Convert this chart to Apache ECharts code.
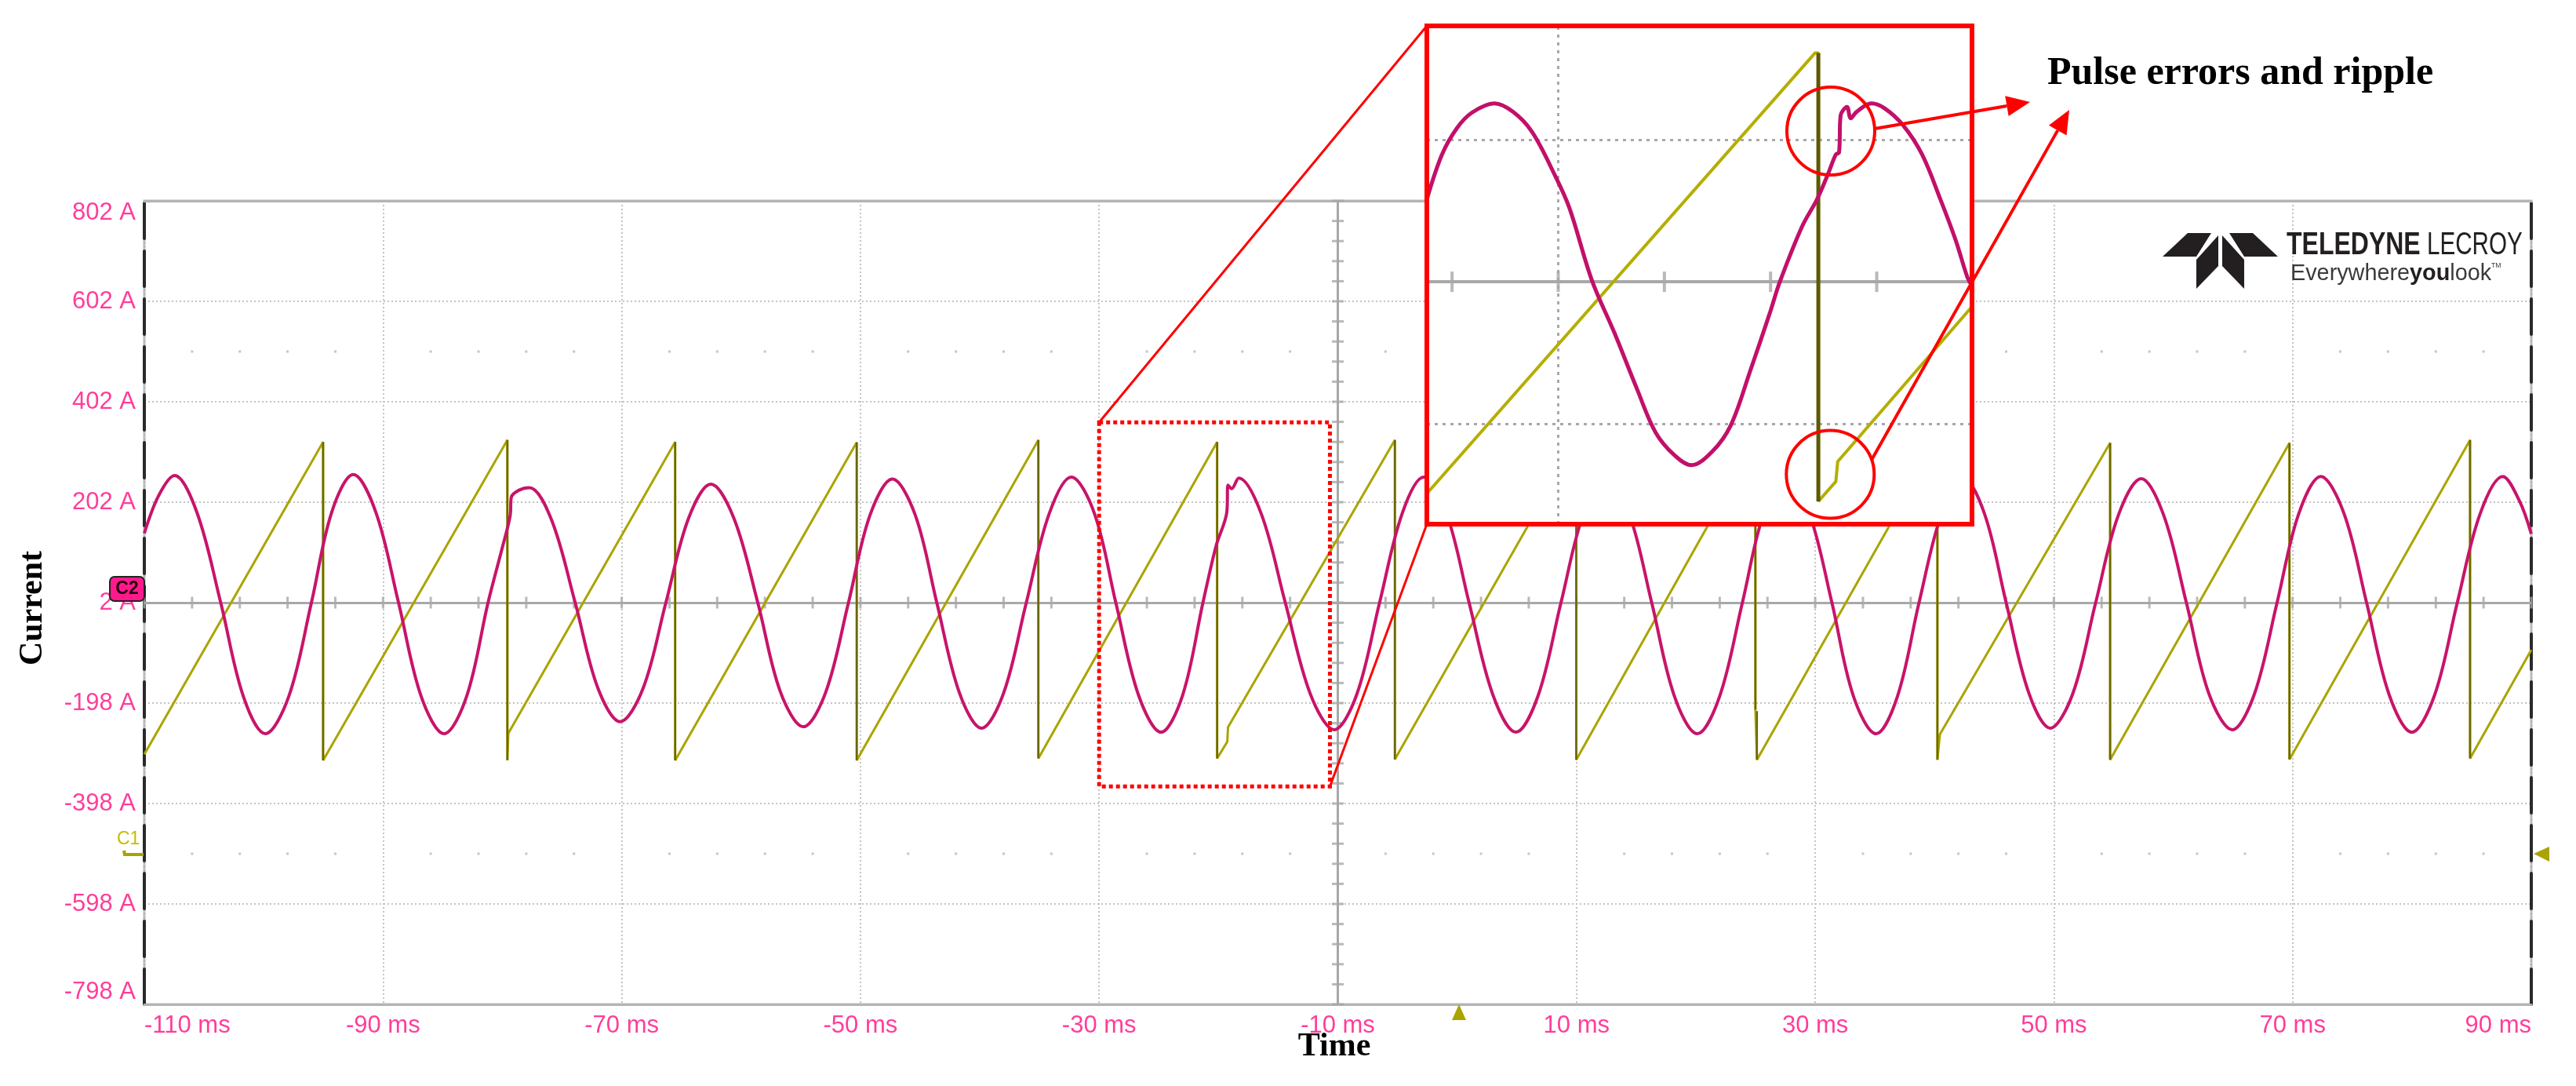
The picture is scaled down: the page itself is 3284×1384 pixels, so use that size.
<!DOCTYPE html>
<html>
<head>
<meta charset="utf-8">
<title>Current vs time</title>
<script src="https://cdn.jsdelivr.net/npm/echarts@6/dist/echarts.min.js"></script>
<style>
  html, body { margin: 0; padding: 0; background: #fff; }
  #chart { width: 3284px; height: 1384px; }
</style>
</head>
<body>
<div id="chart"></div>
<script>
// axis scales as labelled on the scope screen
const timeRange = [-110, 90];      // ms
const timeStep = 20;
const currentRange = [-798, 802];  // A
const currentStep = 200;
const centerTime = -10;
const centerCurrent = 2;

// C2: phase current (magenta), [ms, A]
const c2Trace = [
  [-110, 140], [-108.8, 215], [-107.47, 255], [-105.6, 182], [-103.6, 2], [-101.7, -185], [-99.86, -259],
  [-97.9, -185], [-96.0, 2], [-94.3, 182], [-92.49, 257],
  [-90.6, 182], [-88.7, 2], [-86.8, -185], [-84.88, -259],
  [-83.0, -185], [-81.2, 2], [-80.0, 112], [-79.35, 175], [-79.25, 212], [-78.6, 226], [-77.74, 231],
  [-75.9, 168], [-73.9, 2], [-72.0, -168], [-70.13, -235],
  [-68.2, -168], [-66.3, 2], [-64.4, 170], [-62.53, 238],
  [-60.6, 170], [-58.6, 2], [-56.7, -176], [-54.78, -245],
  [-52.9, -176], [-51.0, 2], [-49.2, 176], [-47.32, 248],
  [-45.4, 176], [-43.6, 2], [-41.7, -178], [-39.85, -248],
  [-38.0, -178], [-36.1, 2], [-34.2, 178], [-32.33, 252],
  [-30.4, 180], [-28.6, 2], [-26.7, -182], [-24.81, -256],
  [-23.0, -182], [-21.3, 2], [-20.2, 115], [-19.3, 182], [-19.2, 236], [-18.9, 229], [-18.3, 250],
  [-16.4, 178], [-14.4, 2], [-12.3, -180], [-10.3, -251],
  [-8.4, -180], [-6.5, 2], [-4.6, 180], [-2.8, 252],
  [-0.9, 180], [1.0, 2], [3.0, -182], [4.92, -256],
  [6.8, -182], [8.7, 2], [10.6, 180], [12.5, 252],
  [14.4, 180], [16.3, 2], [18.2, -184], [20.12, -259],
  [22.0, -184], [23.9, 2], [25.7, 180], [27.6, 252],
  [29.5, 180], [31.4, 2], [33.2, -184], [35.1, -259],
  [36.9, -184], [38.7, 2], [40.6, 180], [42.4, 250],
  [44.2, 178], [46.0, 2], [47.9, -178], [49.7, -248],
  [51.6, -178], [53.5, 2], [55.4, 176], [57.32, 249],
  [59.2, 176], [61.1, 2], [63.0, -180], [64.95, -251],
  [66.8, -180], [68.7, 2], [70.5, 178], [72.36, 253],
  [74.3, 180], [76.2, 2], [78.1, -182], [79.99, -256],
  [81.9, -182], [83.8, 2], [85.7, 178], [87.61, 253],
  [89.0, 205], [90, 139]
];

// C1: angle ramp (olive), [ms, A]
const c1Trace = [
  [-110, -300],
  [-95.02, 322], [-95.02, -312],
  [-79.58, 326], [-79.58, -312], [-79.5, -258],
  [-65.52, 322], [-65.52, -312],
  [-50.31, 321], [-50.31, -312],
  [-35.09, 326], [-35.09, -308],
  [-20.11, 322], [-20.11, -308], [-19.26, -275], [-19.2, -246],
  [-5.22, 326], [-5.22, -310],
  [9.98, 324], [9.98, -311],
  [24.99, 324], [24.99, -211], [25.12, -214], [25.12, -311],
  [40.24, 324], [40.24, -311], [40.45, -260],
  [54.71, 320], [54.71, -311],
  [69.74, 320], [69.74, -310],
  [84.87, 326], [84.87, -308],
  [90, -92]
];

// zoomed view (inset)
const zoomTime = [-34.95, -14.41];
const zoomCurrent = [-339, 362];
const zoomTicks = [-34, -30, -26, -22, -18];
const c2Zoom = [
  [-34.95, 118], [-34.38, 181], [-33.82, 218], [-33.25, 240], [-32.4, 253], [-31.7, 241], [-30.99, 213],
  [-30.14, 153], [-29.58, 106], [-28.73, 4], [-27.88, -70], [-27.03, -149], [-26.33, -210], [-25.62, -242],
  [-24.98, -256], [-24.2, -237], [-23.5, -200], [-22.79, -126], [-22.01, -40], [-21.65, 2], [-20.81, 80],
  [-20.25, 118], [-19.82, 155], [-19.54, 181], [-19.42, 184], [-19.36, 236], [-19.12, 248], [-18.98, 232],
  [-18.76, 241], [-18.2, 253], [-17.7, 246], [-17.0, 222], [-16.29, 181], [-15.58, 116], [-15.02, 60],
  [-14.59, 9], [-14.41, -4]
];
const c1Zoom = [
  [-34.95, -296], [-20.32, 324], [-20.2, 324], [-20.2, -307], [-19.54, -279], [-19.47, -251], [-14.41, -33]
];

// annotation
const zoomBox = { t: [-30, -10.66], a: [-364, 361] };
const errorMarks = [[-19.73, 214], [-19.75, -269]];
const noteText = 'Pulse errors and ripple';

const PINK = '#c8146a';
const OLIVE = '#aaa400';
const OLIVE_DARK = '#6b6800';
const LABEL = '#ff3d9a';
const GRID = '#c4c4c4';
const AXIS = '#a8a8a8';
const RED = '#ff0000';
const SANS = 'Liberation Sans, Arial, sans-serif';
const SERIF = 'Liberation Serif, Times New Roman, serif';

const mainGrid = { left: 184, top: 256, width: 3043, height: 1024 };
const insetGrid = { left: 1819, top: 33, width: 695, height: 635 };

// vertical drop segments of the ramp, drawn darker
const dropsOf = trace => {
  const out = [];
  for (let i = 1; i < trace.length; i++) {
    if (trace[i][0] === trace[i - 1][0]) out.push(trace[i - 1], trace[i], [trace[i][0], '-']);
  }
  return out;
};

// scope graticule decorations
const centerTicksT = [];
for (let t = timeRange[0]; t <= timeRange[1]; t += timeStep / 5) centerTicksT.push([t, centerCurrent]);
const centerTicksA = [];
for (let a = currentRange[0]; a <= currentRange[1]; a += currentStep / 5) centerTicksA.push([centerTime, a]);
const dotRows = [];
[centerCurrent + 2.5 * currentStep, centerCurrent - 2.5 * currentStep].forEach(a => {
  for (let k = 1; k < 50; k++) if (k % 5) dotRows.push([timeRange[0] + k * timeStep / 5, a]);
});

const dashedBorder = { show: true, onZero: false, lineStyle: { color: '#2a2a2a', width: 4, type: [45, 16] } };
const grayBorder = { show: true, onZero: false, lineStyle: { color: '#b4b4b4', width: 3 } };

const option = {
  animation: false,
  backgroundColor: '#fff',
  grid: [
    Object.assign({ show: true, borderColor: '#b4b4b4', borderWidth: 3 }, mainGrid),
    insetGrid
  ],
  xAxis: [
    {
      gridIndex: 0, type: 'value', min: timeRange[0], max: timeRange[1], interval: timeStep,
      axisLine: grayBorder,
      axisTick: { show: false },
      splitLine: { lineStyle: { color: GRID, width: 2, type: [2, 3] } },
      axisLabel: {
        color: LABEL, fontSize: 31, fontFamily: SANS, margin: 12,
        formatter: v => v + ' ms', alignMinLabel: 'left', alignMaxLabel: 'right'
      }
    },
    {
      gridIndex: 0, type: 'value', position: 'top', min: timeRange[0], max: timeRange[1],
      axisLine: grayBorder,
      axisTick: { show: false }, axisLabel: { show: false }, splitLine: { show: false }
    },
    { gridIndex: 1, type: 'value', min: zoomTime[0], max: zoomTime[1], show: false }
  ],
  yAxis: [
    {
      gridIndex: 0, type: 'value', position: 'left', min: currentRange[0], max: currentRange[1], interval: currentStep,
      axisLine: dashedBorder,
      axisTick: { show: false },
      splitLine: { lineStyle: { color: GRID, width: 2, type: [2, 3] } },
      axisLabel: {
        color: LABEL, fontSize: 31, fontFamily: SANS, margin: 11,
        formatter: v => v + ' A', verticalAlignMinLabel: 'bottom', verticalAlignMaxLabel: 'top'
      }
    },
    {
      gridIndex: 0, type: 'value', position: 'right', min: currentRange[0], max: currentRange[1],
      axisLine: dashedBorder,
      axisTick: { show: false }, axisLabel: { show: false }, splitLine: { show: false }
    },
    { gridIndex: 1, type: 'value', min: zoomCurrent[0], max: zoomCurrent[1], show: false }
  ],
  series: [
    {
      name: 'graticule', type: 'scatter', xAxisIndex: 0, yAxisIndex: 0, z: 1, silent: true,
      symbol: 'rect', symbolSize: [3, 15], itemStyle: { color: AXIS },
      data: centerTicksT,
      markLine: {
        silent: true, z: 1, symbol: ['none', 'none'], label: { show: false },
        lineStyle: { color: AXIS, width: 3, type: 'solid' },
        data: [{ yAxis: centerCurrent }, { xAxis: centerTime }]
      }
    },
    {
      name: 'graticuleV', type: 'scatter', xAxisIndex: 0, yAxisIndex: 0, z: 1, silent: true,
      symbol: 'rect', symbolSize: [15, 3], itemStyle: { color: AXIS }, data: centerTicksA
    },
    {
      name: 'dots', type: 'scatter', xAxisIndex: 0, yAxisIndex: 0, z: 1, silent: true,
      symbol: 'rect', symbolSize: 3, itemStyle: { color: '#b8b8b8' }, data: dotRows
    },
    {
      name: 'C1', type: 'line', xAxisIndex: 0, yAxisIndex: 0, z: 3, silent: true,
      showSymbol: false, symbol: 'none', data: c1Trace,
      lineStyle: { color: OLIVE, width: 3 }
    },
    {
      name: 'C1 drops', type: 'line', xAxisIndex: 0, yAxisIndex: 0, z: 3, silent: true,
      showSymbol: false, symbol: 'none', data: dropsOf(c1Trace), connectNulls: false,
      lineStyle: { color: OLIVE_DARK, width: 2.5 }
    },
    {
      name: 'C2', type: 'line', xAxisIndex: 0, yAxisIndex: 0, z: 3, silent: true,
      showSymbol: false, symbol: 'none', smooth: 0.35, data: c2Trace,
      lineStyle: { color: PINK, width: 4 }
    },
    {
      name: 'zoom box', type: 'line', xAxisIndex: 0, yAxisIndex: 0, z: 4, silent: true, data: [],
      markArea: {
        silent: true, z: 4,
        itemStyle: { color: 'rgba(0,0,0,0)', borderColor: RED, borderWidth: 5, borderType: [5, 4] },
        data: [[{ coord: [zoomBox.t[0], zoomBox.a[1]] }, { coord: [zoomBox.t[1], zoomBox.a[0]] }]]
      }
    },
    // inset
    {
      name: 'inset graticule', type: 'scatter', xAxisIndex: 2, yAxisIndex: 2, z: 8, silent: true,
      symbol: 'rect', symbolSize: [4, 26], itemStyle: { color: AXIS },
      data: zoomTicks.map(t => [t, centerCurrent]),
      markLine: {
        silent: true, z: 8, symbol: ['none', 'none'], label: { show: false },
        data: [
          { yAxis: centerCurrent, lineStyle: { color: AXIS, width: 4, type: 'solid' } },
          { yAxis: centerCurrent + currentStep, lineStyle: { color: '#a8a8a8', width: 3, type: [4, 6] } },
          { yAxis: centerCurrent - currentStep, lineStyle: { color: '#a8a8a8', width: 3, type: [4, 6] } },
          { xAxis: -30, lineStyle: { color: '#a8a8a8', width: 3, type: [4, 6] } }
        ]
      }
    },
    {
      name: 'C1 zoom', type: 'line', xAxisIndex: 2, yAxisIndex: 2, z: 10, silent: true,
      showSymbol: false, symbol: 'none', data: c1Zoom,
      lineStyle: { color: '#b5ae00', width: 4 }
    },
    {
      name: 'C1 zoom drops', type: 'line', xAxisIndex: 2, yAxisIndex: 2, z: 10, silent: true,
      showSymbol: false, symbol: 'none', data: dropsOf(c1Zoom),
      lineStyle: { color: '#5c5a00', width: 5 }
    },
    {
      name: 'C2 zoom', type: 'line', xAxisIndex: 2, yAxisIndex: 2, z: 11, silent: true,
      showSymbol: false, symbol: 'none', smooth: 0.35, data: c2Zoom,
      lineStyle: { color: '#c2106a', width: 5 }
    }
  ]
};

const chart = echarts.init(document.getElementById('chart'));
chart.setOption(option);

function arrow(x1, y1, x2, y2) {
  const dx = x2 - x1, dy = y2 - y1, len = Math.hypot(dx, dy);
  const ux = dx / len, uy = dy / len, head = 30, half = 13;
  const bx = x2 - ux * head, by = y2 - uy * head;
  return [
    { type: 'line', z: 30, silent: true, shape: { x1: x1, y1: y1, x2: bx, y2: by }, style: { stroke: RED, lineWidth: 4 } },
    { type: 'polygon', z: 30, silent: true,
      shape: { points: [[x2, y2], [bx - uy * half, by + ux * half], [bx + uy * half, by - ux * half]] },
      style: { fill: RED } }
  ];
}

function annotate() {
  const boxTL = chart.convertToPixel({ xAxisIndex: 0, yAxisIndex: 0 }, [zoomBox.t[0], zoomBox.a[1]]);
  const boxBR = chart.convertToPixel({ xAxisIndex: 0, yAxisIndex: 0 }, [zoomBox.t[1], zoomBox.a[0]]);
  const marks = errorMarks.map(p => chart.convertToPixel({ xAxisIndex: 2, yAxisIndex: 2 }, p));
  const r = 56;
  const ig = insetGrid;
  const graphic = [
    { type: 'rect', z: 6, silent: true, shape: { x: ig.left, y: ig.top, width: ig.width, height: ig.height }, style: { fill: '#fff' } },
    { type: 'rect', z: 30, silent: true, shape: { x: ig.left, y: ig.top, width: ig.width, height: ig.height }, style: { fill: 'none', stroke: RED, lineWidth: 6 } },
    { type: 'line', z: 30, silent: true, shape: { x1: boxTL[0], y1: boxTL[1], x2: ig.left, y2: ig.top }, style: { stroke: RED, lineWidth: 3 } },
    { type: 'line', z: 30, silent: true, shape: { x1: boxBR[0], y1: boxBR[1], x2: ig.left, y2: ig.top + ig.height }, style: { stroke: RED, lineWidth: 3 } },
    { type: 'circle', z: 30, silent: true, shape: { cx: marks[0][0], cy: marks[0][1], r: r }, style: { fill: 'none', stroke: RED, lineWidth: 4 } },
    { type: 'circle', z: 30, silent: true, shape: { cx: marks[1][0], cy: marks[1][1], r: r }, style: { fill: 'none', stroke: RED, lineWidth: 4 } }
  ]
    .concat(arrow(marks[0][0] + r, marks[0][1] - 3, 2588, 130))
    .concat(arrow(marks[1][0] + 53, marks[1][1] - 19, 2638, 140))
    .concat([
      { type: 'text', z: 30, x: 2610, y: 94, silent: true,
        style: { text: noteText, fill: '#000', font: 'bold 50px ' + SERIF, align: 'left', verticalAlign: 'middle' } },
      // axis names
      { type: 'text', x: 1701, y: 1334, silent: true,
        style: { text: 'Time', fill: '#000', font: 'bold 42px ' + SERIF, align: 'center', verticalAlign: 'middle' } },
      { type: 'text', x: 42, y: 775, rotation: Math.PI / 2, silent: true,
        style: { text: 'Current', fill: '#000', font: 'bold 42px ' + SERIF, align: 'center', verticalAlign: 'middle' } },
      // channel markers
      { type: 'rect', z: 20, silent: true, shape: { x: 140, y: 735, width: 44, height: 31, r: 6 }, style: { fill: '#ff1a8c', stroke: '#222', lineWidth: 2 } },
      { type: 'text', z: 21, x: 162, y: 751, silent: true,
        style: { text: 'C2', fill: '#2a0010', font: 'bold 23px ' + SANS, align: 'center', verticalAlign: 'middle' } },
      { type: 'text', z: 20, x: 149, y: 1070, silent: true,
        style: { text: 'C1', fill: '#c4bc00', font: '23px ' + SANS, align: 'left', verticalAlign: 'middle' } },
      { type: 'polyline', z: 20, silent: true, shape: { points: [[158, 1084], [159, 1089], [183, 1089]] }, style: { stroke: '#a9a200', lineWidth: 4, fill: 'none' } },
      { type: 'polygon', z: 20, silent: true, shape: { points: [[3230, 1088], [3250, 1079], [3250, 1098]] }, style: { fill: OLIVE } },
      { type: 'polygon', z: 20, silent: true, shape: { points: [[1860, 1280], [1851, 1300], [1869, 1300]] }, style: { fill: OLIVE } },
      // logo
      { type: 'polygon', z: 6, silent: true, shape: { points: [[2789, 297], [2819, 297], [2800, 327], [2757, 327]] }, style: { fill: '#231f20' } },
      { type: 'polygon', z: 6, silent: true, shape: { points: [[2842, 297], [2872, 297], [2904, 327], [2861, 327]] }, style: { fill: '#231f20' } },
      { type: 'polygon', z: 6, silent: true, shape: { points: [[2828, 300], [2800, 331], [2800, 368], [2828, 339]] }, style: { fill: '#231f20' } },
      { type: 'polygon', z: 6, silent: true, shape: { points: [[2833, 300], [2861, 331], [2861, 368], [2833, 339]] }, style: { fill: '#231f20' } },
      { type: 'text', z: 6, x: 2915, y: 313, scaleX: 0.8, silent: true,
        style: { text: 'TELEDYNE', fill: '#231f20', font: 'bold 40px ' + SANS, align: 'left', verticalAlign: 'middle' } },
      { type: 'text', z: 6, x: 3094, y: 313, scaleX: 0.74, silent: true,
        style: { text: 'LECROY', fill: '#231f20', font: '40px ' + SANS, align: 'left', verticalAlign: 'middle' } },
      { type: 'text', z: 6, x: 2920, y: 349, scaleX: 0.96, silent: true,
        style: {
          text: '{a|Everywhere}{b|you}{a|look}{c|TM}', align: 'left', verticalAlign: 'middle',
          rich: {
            a: { fontFamily: SANS, fontSize: 30, fill: '#3a3a3a' },
            b: { fontFamily: SANS, fontSize: 30, fontWeight: 'bold', fill: '#231f20' },
            c: { fontFamily: SANS, fontSize: 9, fill: '#3a3a3a', verticalAlign: 'top' }
          }
        } }
    ]);
  chart.setOption({ graphic: graphic });
}

annotate();
window.addEventListener('resize', () => {
  chart.resize();
  annotate();
});
</script>
</body>
</html>
